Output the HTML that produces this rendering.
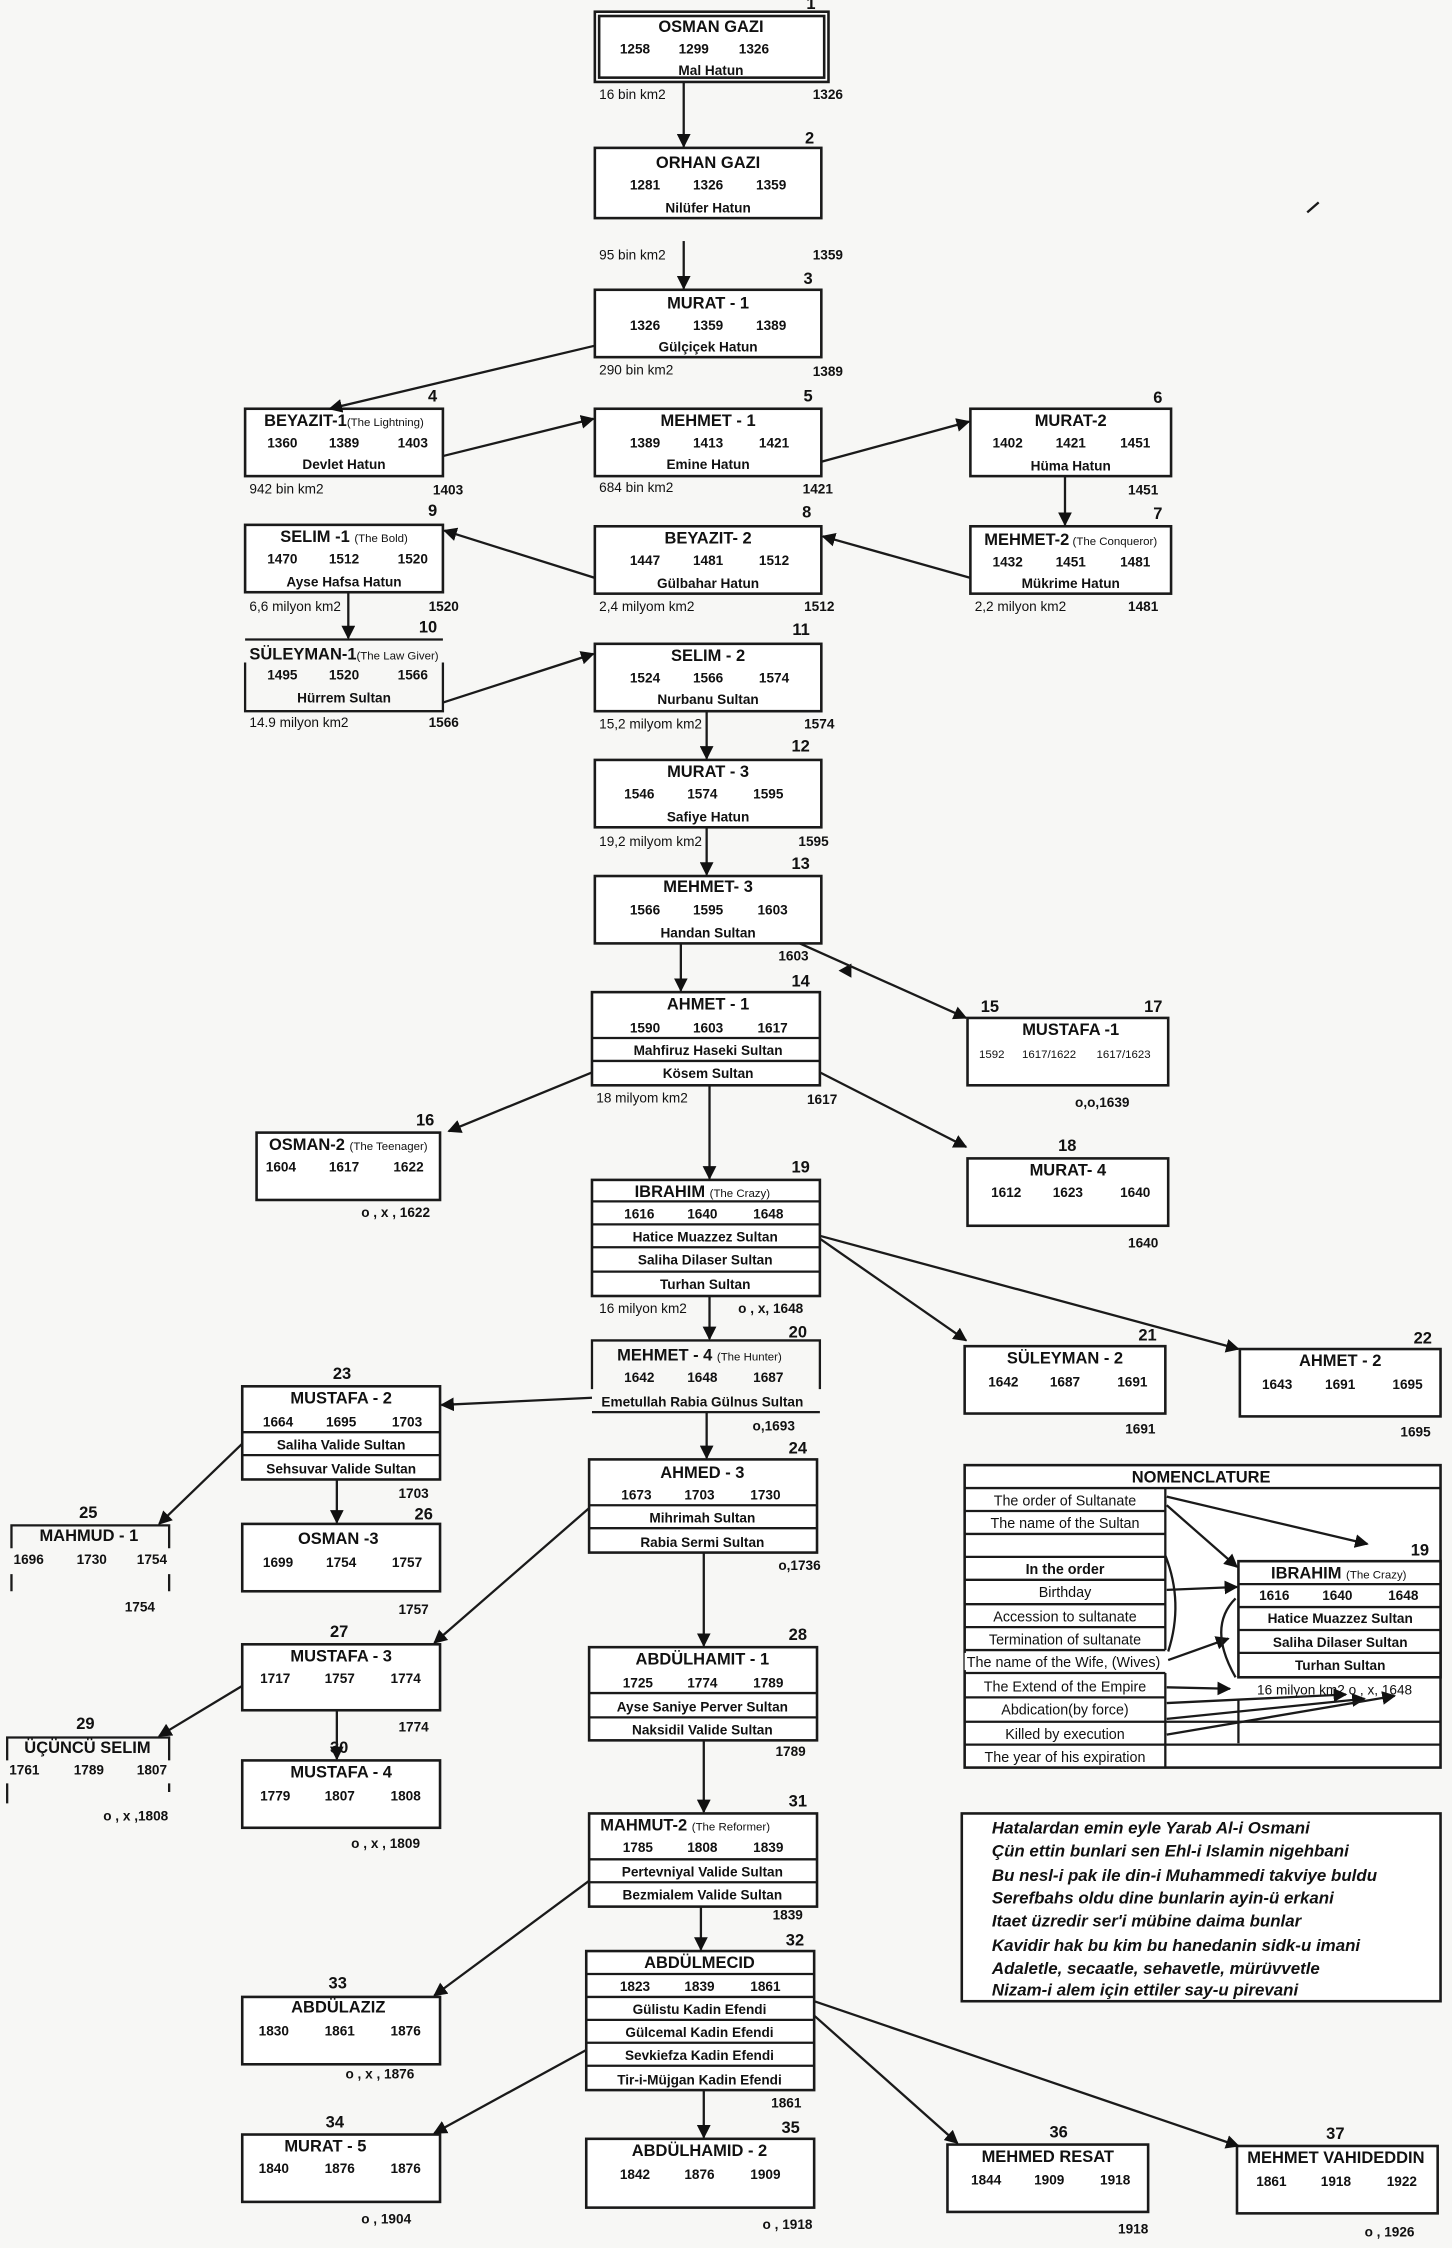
<!DOCTYPE html>
<html><head><meta charset="utf-8"><style>
html,body{margin:0;padding:0;background:#f7f7f5;}
svg{display:block}
text{font-family:"Liberation Sans",Arial,sans-serif;fill:#111}
.t{font-size:11.5px;font-weight:bold;text-anchor:middle}
.n{font-size:9.5px;font-weight:bold;text-anchor:middle}
.w{font-size:9.5px;font-weight:bold;text-anchor:middle}
.s{font-size:9.5px}
.sb{font-size:9.5px;font-weight:bold}
.num{font-size:11.5px;font-weight:bold;text-anchor:end}
.nm{font-size:10px;text-anchor:middle}
.p{font-size:11.8px;font-weight:bold;font-style:italic}
rect{fill:#fff;stroke:#1a1a1a;stroke-width:1.8}
line,path.l{stroke:#1a1a1a;stroke-width:1.6;fill:none}
</style></head><body>
<svg width="1452" height="2248" viewBox="0 0 1013 1568" xmlns="http://www.w3.org/2000/svg">
<defs><marker id="a" viewBox="0 0 10 10" refX="9" refY="5" markerWidth="6" markerHeight="6" orient="auto"><path d="M0,0L10,5L0,10z" fill="#111"/></marker></defs>

<rect x="415" y="8" width="163" height="49"/><rect x="418" y="11" width="157" height="43"/>
<text class="num" x="569" y="6">1</text>
<text class="t" x="496" y="22">OSMAN GAZI</text>
<text class="n" x="443" y="37">1258</text><text class="n" x="484" y="37">1299</text><text class="n" x="526" y="37">1326</text>
<text class="w" x="496" y="52">Mal Hatun</text>
<text class="s" x="418" y="69">16 bin km2</text><text class="sb" x="567" y="69">1326</text>

<rect x="415" y="103" width="158" height="49"/>
<text class="num" x="568" y="100">2</text>
<text class="t" x="494" y="117">ORHAN GAZI</text>
<text class="n" x="450" y="132">1281</text><text class="n" x="494" y="132">1326</text><text class="n" x="538" y="132">1359</text>
<text class="w" x="494" y="148">Nilüfer Hatun</text>
<text class="s" x="418" y="181">95 bin km2</text><text class="sb" x="567" y="181">1359</text>

<rect x="415" y="202" width="158" height="47"/>
<text class="num" x="567" y="198">3</text>
<text class="t" x="494" y="215">MURAT - 1</text>
<text class="n" x="450" y="230">1326</text><text class="n" x="494" y="230">1359</text><text class="n" x="538" y="230">1389</text>
<text class="w" x="494" y="245">Gülçiçek Hatun</text>
<text class="s" x="418" y="261">290 bin km2</text><text class="sb" x="567" y="262">1389</text>

<rect x="171" y="285" width="138" height="47"/>
<text class="num" x="305" y="280">4</text>
<text class="t" x="240" y="297">BEYAZIT-1<tspan font-size="8" font-weight="normal">(The Lightning)</tspan></text>
<text class="n" x="197" y="312">1360</text><text class="n" x="240" y="312">1389</text><text class="n" x="288" y="312">1403</text>
<text class="w" x="240" y="327">Devlet  Hatun</text>
<text class="s" x="174" y="344">942 bin km2</text><text class="sb" x="302" y="345">1403</text>

<rect x="415" y="285" width="158" height="47"/>
<text class="num" x="567" y="280">5</text>
<text class="t" x="494" y="297">MEHMET - 1</text>
<text class="n" x="450" y="312">1389</text><text class="n" x="494" y="312">1413</text><text class="n" x="540" y="312">1421</text>
<text class="w" x="494" y="327">Emine Hatun</text>
<text class="s" x="418" y="343">684 bin km2</text><text class="sb" x="560" y="344">1421</text>

<rect x="677" y="285" width="140" height="47"/>
<text class="num" x="811" y="281">6</text>
<text class="t" x="747" y="297">MURAT-2</text>
<text class="n" x="703" y="312">1402</text><text class="n" x="747" y="312">1421</text><text class="n" x="792" y="312">1451</text>
<text class="w" x="747" y="328">Hüma Hatun</text>
<text class="sb" x="787" y="345">1451</text>

<rect x="677" y="367" width="140" height="47"/>
<text class="num" x="811" y="362">7</text>
<text class="t" x="747" y="380">MEHMET-2<tspan font-size="8" font-weight="normal"> (The Conqueror)</tspan></text>
<text class="n" x="703" y="395">1432</text><text class="n" x="747" y="395">1451</text><text class="n" x="792" y="395">1481</text>
<text class="w" x="747" y="410">Mükrime Hatun</text>
<text class="s" x="680" y="426">2,2 milyon km2</text><text class="sb" x="787" y="426">1481</text>

<rect x="415" y="367" width="158" height="47"/>
<text class="num" x="566" y="361">8</text>
<text class="t" x="494" y="379">BEYAZIT- 2</text>
<text class="n" x="450" y="394">1447</text><text class="n" x="494" y="394">1481</text><text class="n" x="540" y="394">1512</text>
<text class="w" x="494" y="410">Gülbahar Hatun</text>
<text class="s" x="418" y="426">2,4 milyom km2</text><text class="sb" x="561" y="426">1512</text>

<rect x="171" y="366" width="138" height="47"/>
<text class="num" x="305" y="360">9</text>
<text class="t" x="240" y="378">SELIM -1 <tspan font-size="8" font-weight="normal">(The Bold)</tspan></text>
<text class="n" x="197" y="393">1470</text><text class="n" x="240" y="393">1512</text><text class="n" x="288" y="393">1520</text>
<text class="w" x="240" y="409">Ayse Hafsa Hatun</text>
<text class="s" x="174" y="426">6,6 milyon km2</text><text class="sb" x="299" y="426">1520</text>

<line x1="171" y1="446" x2="309" y2="446"/>
<path class="l" d="M171,462V496H309V462"/>
<text class="num" x="305" y="441">10</text>
<text class="t" x="240" y="460">SÜLEYMAN-1<tspan font-size="8" font-weight="normal">(The Law Giver)</tspan></text>
<text class="n" x="197" y="474">1495</text><text class="n" x="240" y="474">1520</text><text class="n" x="288" y="474">1566</text>
<text class="w" x="240" y="490">Hürrem Sultan</text>
<text class="s" x="174" y="507">14.9 milyon km2</text><text class="sb" x="299" y="507">1566</text>

<rect x="415" y="449" width="158" height="47"/>
<text class="num" x="565" y="443">11</text>
<text class="t" x="494" y="461">SELIM - 2</text>
<text class="n" x="450" y="476">1524</text><text class="n" x="494" y="476">1566</text><text class="n" x="540" y="476">1574</text>
<text class="w" x="494" y="491">Nurbanu Sultan</text>
<text class="s" x="418" y="508">15,2 milyom km2</text><text class="sb" x="561" y="508">1574</text>

<rect x="415" y="530" width="158" height="47"/>
<text class="num" x="565" y="524">12</text>
<text class="t" x="494" y="542">MURAT - 3</text>
<text class="n" x="446" y="557">1546</text><text class="n" x="490" y="557">1574</text><text class="n" x="536" y="557">1595</text>
<text class="w" x="494" y="573">Safiye Hatun</text>
<text class="s" x="418" y="590">19,2 milyom km2</text><text class="sb" x="557" y="590">1595</text>

<rect x="415" y="611" width="158" height="47"/>
<text class="num" x="565" y="606">13</text>
<text class="t" x="494" y="622">MEHMET- 3</text>
<text class="n" x="450" y="638">1566</text><text class="n" x="494" y="638">1595</text><text class="n" x="539" y="638">1603</text>
<text class="w" x="494" y="654">Handan Sultan</text>
<text class="sb" x="543" y="670">1603</text>
<path d="M585,677L594,672L594,682z" fill="#111"/>

<rect x="413" y="692" width="159" height="65"/>
<line x1="413" y1="724" x2="572" y2="724"/><line x1="413" y1="740" x2="572" y2="740"/>
<text class="num" x="565" y="688">14</text>
<text class="t" x="494" y="704">AHMET - 1</text>
<text class="n" x="450" y="720">1590</text><text class="n" x="494" y="720">1603</text><text class="n" x="539" y="720">1617</text>
<text class="w" x="494" y="736">Mahfiruz Haseki Sultan</text>
<text class="w" x="494" y="752">Kösem Sultan</text>
<text class="s" x="416" y="769">18 milyom km2</text><text class="sb" x="563" y="770">1617</text>

<rect x="675" y="710" width="140" height="47"/>
<text class="num" x="697" y="706">15</text><text class="num" x="811" y="706">17</text>
<text class="t" x="747" y="722">MUSTAFA -1</text>
<text x="683" y="738" font-size="8">1592</text><text x="713" y="738" font-size="8">1617/1622</text><text x="765" y="738" font-size="8">1617/1623</text>
<text class="sb" x="750" y="772">o,o,1639</text>

<rect x="179" y="790" width="128" height="47"/>
<text class="num" x="303" y="785">16</text>
<text class="t" x="243" y="802">OSMAN-2 <tspan font-size="8" font-weight="normal">(The Teenager)</tspan></text>
<text class="n" x="196" y="817">1604</text><text class="n" x="240" y="817">1617</text><text class="n" x="285" y="817">1622</text>
<text class="sb" x="252" y="849">o  ,  x , 1622</text>

<rect x="675" y="808" width="140" height="47"/>
<text class="num" x="751" y="803">18</text>
<text class="t" x="745" y="820">MURAT- 4</text>
<text class="n" x="702" y="835">1612</text><text class="n" x="745" y="835">1623</text><text class="n" x="792" y="835">1640</text>
<text class="sb" x="787" y="870">1640</text>

<rect x="413" y="823" width="159" height="81"/>
<line x1="413" y1="838" x2="572" y2="838"/><line x1="413" y1="854" x2="572" y2="854"/><line x1="413" y1="870" x2="572" y2="870"/><line x1="413" y1="887" x2="572" y2="887"/>
<text class="num" x="565" y="818">19</text>
<text class="t" x="490" y="835">IBRAHIM <tspan font-size="8" font-weight="normal">(The Crazy)</tspan></text>
<text class="n" x="446" y="850">1616</text><text class="n" x="490" y="850">1640</text><text class="n" x="536" y="850">1648</text>
<text class="w" x="492" y="866">Hatice Muazzez Sultan</text>
<text class="w" x="492" y="882">Saliha Dilaser Sultan</text>
<text class="w" x="492" y="899">Turhan Sultan</text>
<text class="s" x="418" y="916">16 milyon km2</text><text class="sb" x="515" y="916">o , x, 1648</text>

<path class="l" d="M413,969V935H572V969"/>
<line x1="413" y1="985" x2="572" y2="985"/>
<text class="num" x="563" y="933">20</text>
<text class="t" x="488" y="949">MEHMET - 4 <tspan font-size="8" font-weight="normal">(The Hunter)</tspan></text>
<text class="n" x="446" y="964">1642</text><text class="n" x="490" y="964">1648</text><text class="n" x="536" y="964">1687</text>
<text class="w" x="490" y="981">Emetullah Rabia Gülnus Sultan</text>
<text class="sb" x="525" y="998">o,1693</text>

<rect x="673" y="939" width="140" height="47"/>
<text class="num" x="807" y="935">21</text>
<text class="t" x="743" y="951">SÜLEYMAN - 2</text>
<text class="n" x="700" y="967">1642</text><text class="n" x="743" y="967">1687</text><text class="n" x="790" y="967">1691</text>
<text class="sb" x="785" y="1000">1691</text>

<rect x="865" y="941" width="140" height="47"/>
<text class="num" x="999" y="937">22</text>
<text class="t" x="935" y="953">AHMET - 2</text>
<text class="n" x="891" y="969">1643</text><text class="n" x="935" y="969">1691</text><text class="n" x="982" y="969">1695</text>
<text class="sb" x="977" y="1002">1695</text>

<rect x="169" y="967" width="138" height="65"/>
<line x1="169" y1="999" x2="307" y2="999"/><line x1="169" y1="1015" x2="307" y2="1015"/>
<text class="num" x="245" y="962">23</text>
<text class="t" x="238" y="979">MUSTAFA - 2</text>
<text class="n" x="194" y="995">1664</text><text class="n" x="238" y="995">1695</text><text class="n" x="284" y="995">1703</text>
<text class="w" x="238" y="1011">Saliha Valide Sultan</text>
<text class="w" x="238" y="1028">Sehsuvar Valide Sultan</text>
<text class="sb" x="278" y="1045">1703</text>

<rect x="411" y="1018" width="159" height="65"/>
<line x1="411" y1="1050" x2="570" y2="1050"/><line x1="411" y1="1066" x2="570" y2="1066"/>
<text class="num" x="563" y="1014">24</text>
<text class="t" x="490" y="1031">AHMED - 3</text>
<text class="n" x="444" y="1046">1673</text><text class="n" x="488" y="1046">1703</text><text class="n" x="534" y="1046">1730</text>
<text class="w" x="490" y="1062">Mihrimah Sultan</text>
<text class="w" x="490" y="1079">Rabia Sermi Sultan</text>
<text class="sb" x="543" y="1095">o,1736</text>

<path class="l" d="M8,1080V1064H118V1080M8,1098V1110M118,1098V1110"/>
<text class="num" x="68" y="1059">25</text>
<text class="t" x="62" y="1075">MAHMUD - 1</text>
<text class="n" x="20" y="1091">1696</text><text class="n" x="64" y="1091">1730</text><text class="n" x="106" y="1091">1754</text>
<text class="sb" x="87" y="1124">1754</text>

<rect x="169" y="1063" width="138" height="47"/>
<text class="num" x="302" y="1060">26</text>
<text class="t" x="236" y="1077">OSMAN -3</text>
<text class="n" x="194" y="1093">1699</text><text class="n" x="238" y="1093">1754</text><text class="n" x="284" y="1093">1757</text>
<text class="sb" x="278" y="1126">1757</text>

<rect x="169" y="1147" width="138" height="46"/>
<text class="num" x="243" y="1142">27</text>
<text class="t" x="238" y="1159">MUSTAFA - 3</text>
<text class="n" x="192" y="1174">1717</text><text class="n" x="237" y="1174">1757</text><text class="n" x="283" y="1174">1774</text>
<text class="sb" x="278" y="1208">1774</text>

<rect x="411" y="1149" width="159" height="65"/>
<line x1="411" y1="1181" x2="570" y2="1181"/><line x1="411" y1="1198" x2="570" y2="1198"/>
<text class="num" x="563" y="1144">28</text>
<text class="t" x="490" y="1161">ABDÜLHAMIT - 1</text>
<text class="n" x="445" y="1177">1725</text><text class="n" x="490" y="1177">1774</text><text class="n" x="536" y="1177">1789</text>
<text class="w" x="490" y="1194">Ayse Saniye Perver Sultan</text>
<text class="w" x="490" y="1210">Naksidil Valide Sultan</text>
<text class="sb" x="541" y="1225">1789</text>

<path class="l" d="M5,1228V1212H118V1228M5,1244V1258M118,1244V1250"/>
<text class="num" x="66" y="1206">29</text>
<text class="t" x="61" y="1223">ÜÇÜNCÜ SELIM</text>
<text class="n" x="17" y="1238">1761</text><text class="n" x="62" y="1238">1789</text><text class="n" x="106" y="1238">1807</text>
<text class="sb" x="72" y="1270">o , x ,1808</text>

<rect x="169" y="1228" width="138" height="47"/>
<text class="num" x="243" y="1223">30</text>
<text class="t" x="238" y="1240">MUSTAFA - 4</text>
<text class="n" x="192" y="1256">1779</text><text class="n" x="237" y="1256">1807</text><text class="n" x="283" y="1256">1808</text>
<text class="sb" x="245" y="1289">o , x , 1809</text>

<rect x="411" y="1265" width="159" height="65"/>
<line x1="411" y1="1297" x2="570" y2="1297"/><line x1="411" y1="1313" x2="570" y2="1313"/>
<text class="num" x="563" y="1260">31</text>
<text class="t" x="478" y="1277">MAHMUT-2 <tspan font-size="8" font-weight="normal">(The Reformer)</tspan></text>
<text class="n" x="445" y="1292">1785</text><text class="n" x="490" y="1292">1808</text><text class="n" x="536" y="1292">1839</text>
<text class="w" x="490" y="1309">Pertevniyal Valide Sultan</text>
<text class="w" x="490" y="1325">Bezmialem Valide Sultan</text>
<text class="sb" x="539" y="1339">1839</text>

<rect x="409" y="1361" width="159" height="97"/>
<line x1="409" y1="1377" x2="568" y2="1377"/><line x1="409" y1="1393" x2="568" y2="1393"/><line x1="409" y1="1409" x2="568" y2="1409"/><line x1="409" y1="1425" x2="568" y2="1425"/><line x1="409" y1="1441" x2="568" y2="1441"/>
<text class="num" x="561" y="1357">32</text>
<text class="t" x="488" y="1373">ABDÜLMECID</text>
<text class="n" x="443" y="1389">1823</text><text class="n" x="488" y="1389">1839</text><text class="n" x="534" y="1389">1861</text>
<text class="w" x="488" y="1405">Gülistu Kadin Efendi</text>
<text class="w" x="488" y="1421">Gülcemal Kadin Efendi</text>
<text class="w" x="488" y="1437">Sevkiefza Kadin Efendi</text>
<text class="w" x="488" y="1454">Tir-i-Müjgan Kadin Efendi</text>
<text class="sb" x="538" y="1470">1861</text>

<rect x="169" y="1393" width="138" height="47"/>
<text class="num" x="242" y="1387">33</text>
<text class="t" x="236" y="1404">ABDÜLAZIZ</text>
<text class="n" x="191" y="1420">1830</text><text class="n" x="237" y="1420">1861</text><text class="n" x="283" y="1420">1876</text>
<text class="sb" x="241" y="1450">o , x , 1876</text>

<rect x="169" y="1489" width="138" height="47"/>
<text class="num" x="240" y="1484">34</text>
<text class="t" x="227" y="1501">MURAT - 5</text>
<text class="n" x="191" y="1516">1840</text><text class="n" x="237" y="1516">1876</text><text class="n" x="283" y="1516">1876</text>
<text class="sb" x="252" y="1551">o ,  1904</text>

<rect x="409" y="1492" width="159" height="48"/>
<text class="num" x="558" y="1488">35</text>
<text class="t" x="488" y="1504">ABDÜLHAMID - 2</text>
<text class="n" x="443" y="1520">1842</text><text class="n" x="488" y="1520">1876</text><text class="n" x="534" y="1520">1909</text>
<text class="sb" x="532" y="1555">o , 1918</text>

<rect x="661" y="1496" width="140" height="47"/>
<text class="num" x="745" y="1491">36</text>
<text class="t" x="731" y="1508">MEHMED RESAT</text>
<text class="n" x="688" y="1524">1844</text><text class="n" x="732" y="1524">1909</text><text class="n" x="778" y="1524">1918</text>
<text class="sb" x="780" y="1558">1918</text>

<rect x="863" y="1497" width="140" height="47"/>
<text class="num" x="938" y="1492">37</text>
<text class="t" x="932" y="1509">MEHMET VAHIDEDDIN</text>
<text class="n" x="887" y="1525">1861</text><text class="n" x="932" y="1525">1918</text><text class="n" x="978" y="1525">1922</text>
<text class="sb" x="952" y="1560">o ,  1926</text>

<g marker-end="url(#a)">
<line x1="477" y1="57" x2="477" y2="102"/>
<line x1="477" y1="168" x2="477" y2="201"/>
<line x1="415" y1="241" x2="230" y2="285"/>
<line x1="309" y1="318" x2="414" y2="292"/>
<line x1="573" y1="322" x2="676" y2="294"/>
<line x1="743" y1="332" x2="743" y2="366"/>
<line x1="677" y1="403" x2="574" y2="374"/>
<line x1="415" y1="403" x2="310" y2="370"/>
<line x1="243" y1="413" x2="243" y2="445"/>
<line x1="309" y1="490" x2="414" y2="456"/>
<line x1="493" y1="496" x2="493" y2="529"/>
<line x1="493" y1="577" x2="493" y2="610" stroke-width="2.6"/>
<line x1="475" y1="658" x2="475" y2="691"/>
<line x1="558" y1="658" x2="674" y2="710"/>
<line x1="413" y1="748" x2="313" y2="789"/>
<line x1="572" y1="748" x2="674" y2="800"/>
<line x1="495" y1="757" x2="495" y2="822" stroke-width="2.4"/>
<line x1="495" y1="904" x2="495" y2="934"/>
<line x1="572" y1="864" x2="674" y2="935"/>
<line x1="572" y1="862" x2="864" y2="941"/>
<line x1="413" y1="975" x2="308" y2="980"/>
<line x1="493" y1="985" x2="493" y2="1017"/>
<line x1="169" y1="1007" x2="111" y2="1063"/>
<line x1="235" y1="1032" x2="235" y2="1062"/>
<line x1="411" y1="1052" x2="303" y2="1146"/>
<line x1="491" y1="1083" x2="491" y2="1148"/>
<line x1="169" y1="1176" x2="111" y2="1211"/>
<line x1="235" y1="1193" x2="235" y2="1227"/>
<line x1="491" y1="1214" x2="491" y2="1264"/>
<line x1="489" y1="1330" x2="489" y2="1360"/>
<line x1="411" y1="1312" x2="303" y2="1392"/>
<line x1="409" y1="1430" x2="303" y2="1488"/>
<line x1="491" y1="1458" x2="491" y2="1491"/>
<line x1="568" y1="1406" x2="668" y2="1495"/>
<line x1="568" y1="1396" x2="864" y2="1497"/>
</g>
<path class="l" d="M912,148L920,141" stroke-width="1"/>

<rect x="673" y="1022" width="332" height="211"/>
<line x1="673" y1="1038" x2="1005" y2="1038"/>
<line x1="813" y1="1038" x2="813" y2="1151"/>
<line x1="673" y1="1054" x2="813" y2="1054"/><line x1="673" y1="1070" x2="813" y2="1070"/><line x1="673" y1="1086" x2="813" y2="1086"/><line x1="673" y1="1102" x2="813" y2="1102"/><line x1="673" y1="1119" x2="813" y2="1119"/><line x1="673" y1="1135" x2="813" y2="1135"/><line x1="673" y1="1151" x2="813" y2="1151"/>
<rect x="673" y="1153" width="140" height="12" style="fill:#fff;stroke:none"/>
<line x1="673" y1="1167" x2="813" y2="1167"/>
<line x1="813" y1="1167" x2="813" y2="1233"/>
<line x1="673" y1="1184" x2="813" y2="1184"/><line x1="673" y1="1201" x2="1005" y2="1201"/><line x1="673" y1="1217" x2="1005" y2="1217"/>
<line x1="864" y1="1185" x2="864" y2="1216"/>
<text class="t" x="838" y="1034">NOMENCLATURE</text>
<text class="nm" x="743" y="1050">The order of Sultanate</text>
<text class="nm" x="743" y="1066">The name of the Sultan</text>
<text class="nm" x="743" y="1098" font-weight="bold">In the order</text>
<text class="nm" x="743" y="1114">Birthday</text>
<text class="nm" x="743" y="1131">Accession to sultanate</text>
<text class="nm" x="743" y="1147">Termination of sultanate</text>
<text class="nm" x="742" y="1163">The name of the Wife, (Wives)</text>
<text class="nm" x="743" y="1180">The Extend of the Empire</text>
<text class="nm" x="743" y="1196">Abdication(by force)</text>
<text class="nm" x="743" y="1213">Killed by execution</text>
<text class="nm" x="743" y="1229">The year of his expiration</text>
<rect x="864" y="1089" width="141" height="81"/>
<line x1="864" y1="1105" x2="1005" y2="1105"/><line x1="864" y1="1121" x2="1005" y2="1121"/><line x1="864" y1="1137" x2="1005" y2="1137"/><line x1="864" y1="1153" x2="1005" y2="1153"/>
<text class="num" x="997" y="1085">19</text>
<text class="t" x="934" y="1101">IBRAHIM <tspan font-size="8" font-weight="normal">(The Crazy)</tspan></text>
<text class="n" x="889" y="1116">1616</text><text class="n" x="933" y="1116">1640</text><text class="n" x="979" y="1116">1648</text>
<text class="w" x="935" y="1132">Hatice Muazzez Sultan</text>
<text class="w" x="935" y="1149">Saliha Dilaser Sultan</text>
<text class="w" x="935" y="1165">Turhan Sultan</text>
<text class="s" x="877" y="1182">16 milyon km2  o , x, 1648</text>
<g marker-end="url(#a)" stroke-width="1.2">
<line x1="814" y1="1044" x2="954" y2="1077"/>
<line x1="814" y1="1050" x2="863" y2="1093"/>
<line x1="814" y1="1109" x2="863" y2="1107"/>
<line x1="815" y1="1158" x2="857" y2="1143"/>
<line x1="814" y1="1177" x2="858" y2="1178"/>
<line x1="814" y1="1188" x2="939" y2="1182"/>
<line x1="814" y1="1199" x2="952" y2="1185"/>
<line x1="814" y1="1210" x2="973" y2="1183"/>
</g>
<path class="l" d="M813,1085Q826,1118 815,1152" stroke-width="1.1"/>
<path class="l" d="M862,1115Q842,1135 862,1170" stroke-width="2"/>

<rect x="671" y="1265" width="334" height="131"/>
<text class="p" x="692" y="1279">Hatalardan emin eyle  Yarab Al-i Osmani</text>
<text class="p" x="692" y="1295">Çün ettin  bunlari sen Ehl-i Islamin nigehbani</text>
<text class="p" x="692" y="1312">Bu nesl-i pak ile din-i Muhammedi takviye buldu</text>
<text class="p" x="692" y="1328">Serefbahs oldu dine bunlarin ayin-ü erkani</text>
<text class="p" x="692" y="1344">Itaet üzredir ser'i mübine daima bunlar</text>
<text class="p" x="692" y="1361">Kavidir hak bu kim bu hanedanin sidk-u imani</text>
<text class="p" x="692" y="1377">Adaletle, secaatle, sehavetle, mürüvvetle</text>
<text class="p" x="692" y="1392">Nizam-i alem için ettiler say-u pirevani</text>
</svg>
</body></html>
